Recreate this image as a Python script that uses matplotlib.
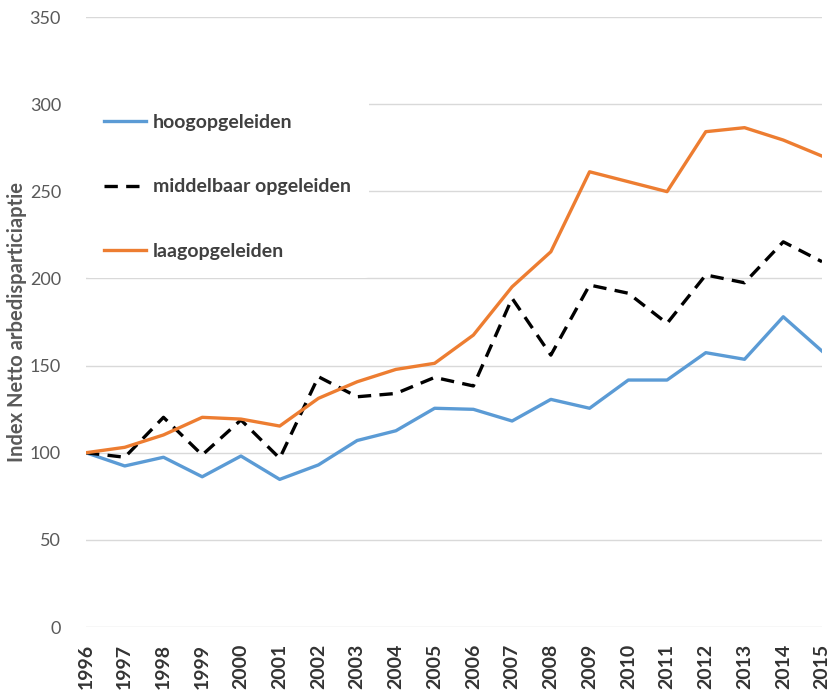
import matplotlib
matplotlib.use("Agg")
import matplotlib.pyplot as plt

years = list(range(1996, 2016))
hoog = [100, 92.4, 97.4, 86.2, 98.1, 84.7, 93.0, 107.0, 112.6, 125.5,
        124.9, 118.2, 130.6, 125.5, 141.7, 141.7, 157.4, 153.6, 178.0, 158.3]
middel = [100, 97.4, 120.3, 98.7, 118.8, 96.8, 143.6, 132.1, 134.0, 143.2,
          138.3, 188.6, 156.0, 196.2, 191.5, 174.2, 202.0, 197.5, 221.0, 209.6]
laag = [100, 103.1, 110.2, 120.3, 119.3, 115.3, 131.2, 140.7, 147.8, 151.3,
        167.5, 195.2, 215.3, 261.2, 255.5, 249.8, 284.2, 286.5, 279.4, 270.2]
labels = ["hoogopgeleiden", "middelbaar opgeleiden", "laagopgeleiden"]
yticks = [0, 50, 100, 150, 200, 250, 300, 350]

plt.rcParams['font.family'] = ['Lato', 'DejaVu Sans']

fig = plt.figure(figsize=(8.31, 6.96), dpi=100)
ax = fig.add_axes([86/831, 1-627/696, (822-86)/831, (627-17)/696])

ax.plot(years, hoog, color='#5B9BD5', lw=2.4, label=labels[0], zorder=3)
ax.plot(years, middel, color='black', lw=2.4, ls=(0, (4, 2.5)), label=labels[1], zorder=3)
ax.plot(years, laag, color='#ED7D31', lw=2.4, label=labels[2], zorder=3)

ax.set_xlim(1996, 2015)
ax.set_ylim(0, 350)
ax.set_yticks(yticks)
ax.set_xticks(years)
ax.set_xticklabels([str(y) for y in years], rotation=90, fontsize=14,
                   fontweight='bold', color='#333333')
ax.tick_params(axis='y', labelsize=13, labelcolor='#595959', length=0, pad=18)
ax.tick_params(axis='x', length=0, pad=12)
ax.grid(axis='y', color='#D9D9D9', lw=1)
ax.set_axisbelow(True)
for s in ax.spines.values():
    s.set_visible(False)

ax.set_ylabel("Index Netto arbedisparticiaptie", fontsize=14.5, fontweight='bold',
              color='#595959')
ax.yaxis.set_label_coords(-0.08, 0.50)

leg = ax.legend(loc='upper left', bbox_to_anchor=(0.0, 0.87), frameon=True,
                facecolor='white', edgecolor='none', framealpha=1,
                fontsize=14, labelspacing=2.45, handlelength=2.2,
                handletextpad=0.35, borderpad=0.9, borderaxespad=0)
for t in leg.get_texts():
    t.set_color('#404040')
    t.set_fontweight('bold')

fig.savefig("out.png", dpi=100, facecolor='white')
